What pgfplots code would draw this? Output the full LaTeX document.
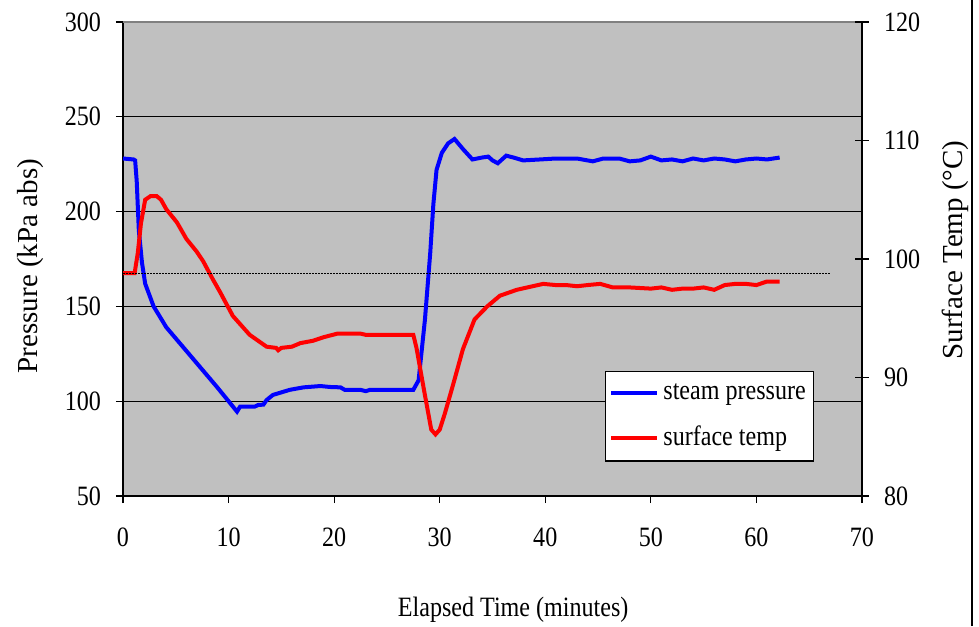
\documentclass[border=0pt]{standalone}
\usepackage{fontspec}
\setmainfont{Liberation Serif}
\newfontfamily\narrowfont{Liberation Serif}[FakeStretch=0.86]
\usepackage{pgfplots}
\pgfplotsset{compat=1.18}
\definecolor{plotgray}{RGB}{192,192,192}
\definecolor{bordergray}{RGB}{128,128,128}
\newcommand{\tickfont}{\narrowfont\fontsize{14}{16}\selectfont}
\newcommand{\labfont}{\fontsize{14.5}{17}\selectfont}

\pgfplotsset{
  common/.style={
    scale only axis, width=369.5pt, height=237pt,
    at={(61.5pt,65pt)}, anchor=south west,
    xmin=0, xmax=70,
    axis line style={-, black, line width=0.6pt},
    tick style={black, line width=0.6pt},
    ticklabel style={font=\tickfont},
    /pgf/number format/assume math mode=true,
  },
}

\begin{document}
\begin{tikzpicture}
\useasboundingbox (0,0) rectangle (489.5pt,313pt);

% pressure, left axis
\begin{axis}[
  common,
  ymin=50, ymax=300,
  xtick={0,10,...,70}, ytick={50,100,...,300},
  axis x line*=bottom, axis y line*=left,
  axis background/.style={fill=plotgray},
  ymajorgrids, grid style={black, line width=0.5pt},
  tick align=outside, major tick length=3.5pt,
  xticklabel style={yshift=-9pt},
  yticklabel style={xshift=-4pt},
  every axis x label/.style={at={(axis description cs:0.528,-0.2405)}, anchor=center, font=\tickfont},
  every axis y label/.style={at={(axis description cs:-0.1258,0.485)}, anchor=center, rotate=90, font=\labfont},
  xlabel={Elapsed Time (minutes)},
  ylabel={Pressure (kPa abs)},
]
\addplot[blue, line width=2pt] coordinates {
  (0,228) (1.0,227.5) (1.15,227) (1.3,216) (1.5,190) (1.8,173) (2.1,162)
  (2.9,150) (4.1,139) (5.7,128.5) (7.3,118) (8.9,107.5) (10.0,100)
  (10.8,94.5) (11.1,97.2) (12.5,97.2) (12.8,98) (13.3,98.2) (13.6,100.6)
  (14.2,103.3) (15.8,106) (17.1,107.3) (18.7,108) (19.6,107.5) (20.6,107.3)
  (21.0,106) (22.5,106) (23.0,105.3) (23.4,106) (27.5,106) (28.0,111)
  (28.6,143) (29.1,178) (29.4,204) (29.7,222) (30.2,231) (30.8,236)
  (31.4,238.3) (32.2,233) (33.1,227.5) (34.0,228.5) (34.6,229) (35.0,227)
  (35.5,225.5) (36.3,229.5) (37.0,228.5) (37.9,227) (39.5,227.5) (41,228)
  (43,228) (44.5,226.5) (45.5,228) (47,228) (48,226.5) (49,227) (50,229)
  (51,227) (52,227.5) (53,226.5) (54,228) (55,227) (56,228) (57,227.5)
  (58,226.5) (59,227.5) (60,228) (61,227.5) (62.2,228.5)
};
\draw[bordergray, line width=0.8pt] (rel axis cs:0,1) -- (rel axis cs:1,1);
\end{axis}

% surface temperature, right axis
\begin{axis}[
  common,
  ymin=80, ymax=120, ytick={80,90,...,120},
  axis x line=none, axis y line*=right,
  tick align=center, major tick length=7pt,
  yticklabel style={xshift=4pt},
  every axis y label/.style={at={(axis description cs:1.127,0.519)}, anchor=center, rotate=90, font=\labfont},
  ylabel={Surface Temp (°C)},
  legend style={at={(0.652,0.264)}, anchor=north west, draw=black, fill=white,
    line width=0.6pt, font=\tickfont, row sep=8pt, inner xsep=2pt, inner ysep=4pt},
  legend cell align=left,
  legend image code/.code={\draw[#1] (0pt,0pt) -- (23pt,0pt);},
]
\addlegendimage{blue, line width=2pt}
\addlegendentry{steam pressure}
\addplot[red, line width=2pt] coordinates {
  (0,98.8) (1.1,98.8) (1.4,100.5) (1.7,103) (2.1,105) (2.6,105.3) (3.2,105.3)
  (3.6,105) (4.1,104.2) (5.1,103.1) (6.0,101.7) (7.0,100.6) (7.6,99.8)
  (8.5,98.3) (9.2,97.2) (10.4,95.2) (11.3,94.3) (12.0,93.6) (13.6,92.6)
  (14.5,92.5) (14.7,92.3) (15.0,92.5) (16.0,92.6) (16.8,92.9) (18.0,93.1)
  (19.0,93.4) (20.3,93.7) (22.5,93.7) (23.0,93.6) (27.5,93.6) (27.8,92.5)
  (28.5,89) (29.2,85.6) (29.6,85.2) (30.0,85.6) (30.5,87) (31.3,89.5)
  (32.2,92.4) (33.3,94.9) (34.5,96.0) (35.7,96.9) (37.3,97.4) (38.8,97.7)
  (39.8,97.9) (41,97.8) (42,97.8) (43,97.7) (44,97.8) (45.2,97.9) (46.4,97.6)
  (48,97.6) (50,97.5) (51,97.6) (52,97.4) (53,97.5) (54,97.5) (55,97.6)
  (56,97.4) (57,97.8) (58,97.9) (59,97.9) (60,97.8) (61,98.1) (62.2,98.1)
};
\addlegendentry{surface temp}
\addplot[black, line width=0.6pt, dash pattern=on 0.8pt off 0.7pt, forget plot]
  coordinates {(0,98.8) (67,98.8)};
\end{axis}

\draw[black, line width=1.2pt] (486pt,0pt) -- (486pt,313pt);
\end{tikzpicture}
\end{document}
